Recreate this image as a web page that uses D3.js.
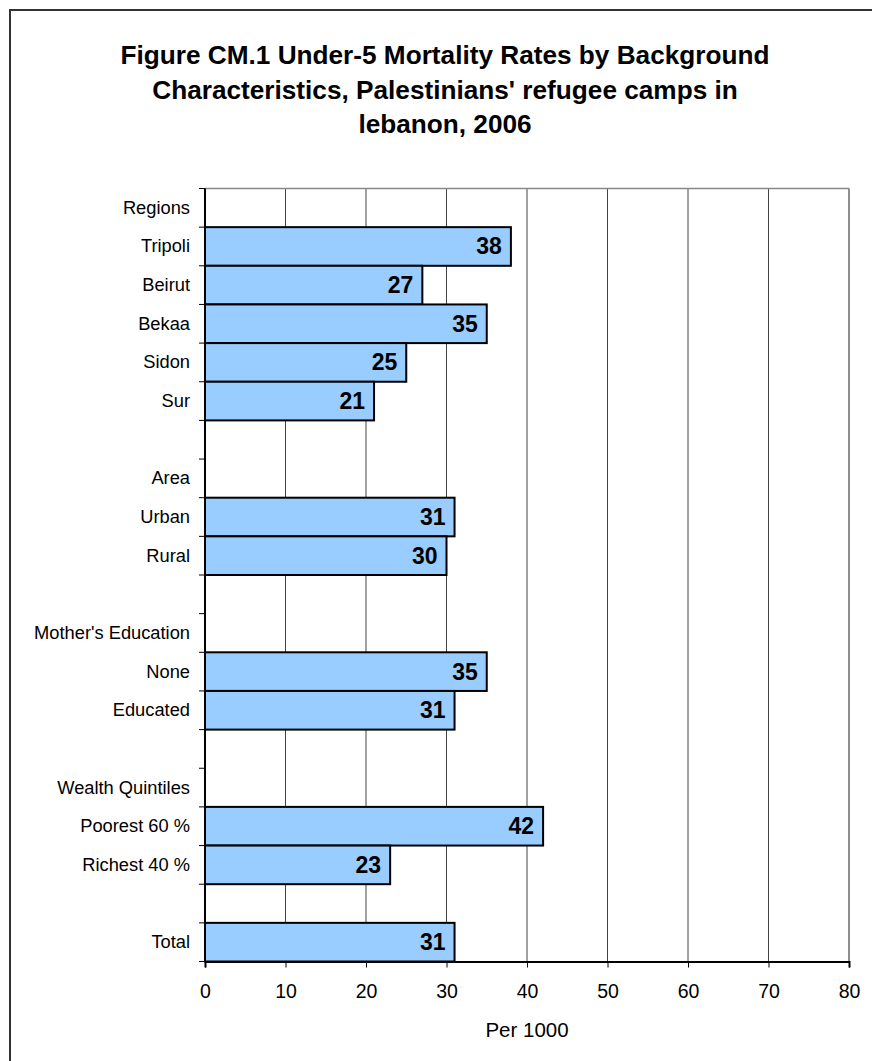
<!DOCTYPE html>
<html>
<head>
<meta charset="utf-8">
<script src="https://cdn.jsdelivr.net/npm/d3@7"></script>
<style>
  html, body { margin: 0; padding: 0; background: #fff; }
  svg { display: block; }
</style>
</head>
<body>
<script>
// Row labels (blank entries are spacer rows between groups)
const categories = [
  "Regions", "Tripoli", "Beirut", "Bekaa", "Sidon", "Sur", "",
  "Area", "Urban", "Rural", "",
  "Mother's Education", "None", "Educated", "",
  "Wealth Quintiles", "Poorest 60 %", "Richest 40 %", "",
  "Total"
];
// Under-5 mortality per 1000 (null = no bar)
const values = [
  null, 38, 27, 35, 25, 21, null,
  null, 31, 30, null,
  null, 35, 31, null,
  null, 42, 23, null,
  31
];
const xTicks = [0, 10, 20, 30, 40, 50, 60, 70, 80];
const titleLines = [
  "Figure CM.1 Under-5 Mortality Rates by Background",
  "Characteristics, Palestinians' refugee camps in",
  "lebanon, 2006"
];
const xAxisTitle = "Per 1000";

const FONT = "Arial, 'Liberation Sans', sans-serif";
const W = 872, H = 1061;
const svg = d3.select("body").append("svg").attr("width", W).attr("height", H);

svg.append("rect").attr("width", W).attr("height", H).attr("fill", "#fff");
// outer frame
svg.append("rect")
  .attr("x", 10).attr("y", 10).attr("width", W).attr("height", H)
  .attr("fill", "none").attr("stroke", "#333").attr("stroke-width", 2);

// title
svg.append("g").selectAll("text").data(titleLines).join("text")
  .attr("x", 445).attr("y", (d, i) => 64 + i * 34.5)
  .attr("text-anchor", "middle")
  .attr("font-family", FONT)
  .attr("font-weight", "bold").attr("font-size", 26.2)
  .attr("fill", "#000")
  .text(d => d);

const plot = { left: 205, right: 849, top: 188.5, bottom: 961.5 };

const x = d3.scaleLinear().domain([0, 80]).range([plot.left, plot.right]);
const y = d3.scaleBand().domain(d3.range(categories.length))
  .range([plot.top, plot.bottom]).padding(0);

// vertical gridlines
svg.append("g").selectAll("line").data(xTicks.slice(1)).join("line")
  .attr("x1", d => x(d)).attr("x2", d => x(d))
  .attr("y1", plot.top).attr("y2", plot.bottom)
  .attr("stroke", "#444").attr("stroke-width", 1);

// top and right plot border
svg.append("line")
  .attr("x1", plot.left).attr("x2", plot.right)
  .attr("y1", plot.top).attr("y2", plot.top)
  .attr("stroke", "#888").attr("stroke-width", 1.5);
svg.append("line")
  .attr("x1", plot.right).attr("x2", plot.right)
  .attr("y1", plot.top).attr("y2", plot.bottom)
  .attr("stroke", "#888").attr("stroke-width", 1.5);

// bars
const rows = categories.map((c, i) => ({ i, c, v: values[i] }));
const barRows = rows.filter(d => d.v != null);
svg.append("g").selectAll("rect").data(barRows).join("rect")
  .attr("x", x(0)).attr("y", d => y(d.i))
  .attr("width", d => x(d.v) - x(0))
  .attr("height", y.bandwidth())
  .attr("fill", "#99CCFF").attr("stroke", "#000").attr("stroke-width", 2);

// value labels
svg.append("g").selectAll("text").data(barRows).join("text")
  .attr("x", d => x(d.v) - 9)
  .attr("y", d => y(d.i) + y.bandwidth() / 2 + 8)
  .attr("text-anchor", "end")
  .attr("font-family", FONT)
  .attr("font-weight", "bold").attr("font-size", 23)
  .attr("fill", "#000")
  .text(d => d.v);

// y axis: ticks at band boundaries
const yAxisG = svg.append("g");
yAxisG.append("line")
  .attr("x1", plot.left).attr("x2", plot.left)
  .attr("y1", plot.top).attr("y2", plot.bottom)
  .attr("stroke", "#000").attr("stroke-width", 2);
yAxisG.selectAll("line.tk").data(d3.range(categories.length + 1)).join("line")
  .attr("class", "tk")
  .attr("x1", plot.left - 6).attr("x2", plot.left)
  .attr("y1", d => plot.top + d * y.step()).attr("y2", d => plot.top + d * y.step())
  .attr("stroke", "#000").attr("stroke-width", 1);
yAxisG.selectAll("text").data(rows).join("text")
  .attr("x", 190)
  .attr("y", d => y(d.i) + y.bandwidth() / 2 + 6)
  .attr("text-anchor", "end")
  .attr("font-family", FONT)
  .attr("font-size", 18.3)
  .attr("fill", "#000")
  .text(d => d.c);

// x axis
const xAxis = d3.axisBottom(x).tickValues(xTicks).tickSize(6).tickPadding(17);
const xg = svg.append("g").attr("transform", `translate(0,${plot.bottom})`).call(xAxis);
xg.select(".domain").attr("stroke", "#000").attr("stroke-width", 2);
xg.selectAll(".tick line").attr("stroke", "#000");
xg.selectAll(".tick text")
  .attr("font-family", FONT)
  .attr("font-size", 19.5).attr("fill", "#000");

svg.append("text")
  .attr("x", 527).attr("y", 1037)
  .attr("text-anchor", "middle")
  .attr("font-family", FONT)
  .attr("font-size", 20.5).attr("fill", "#000")
  .text(xAxisTitle);
</script>
</body>
</html>
